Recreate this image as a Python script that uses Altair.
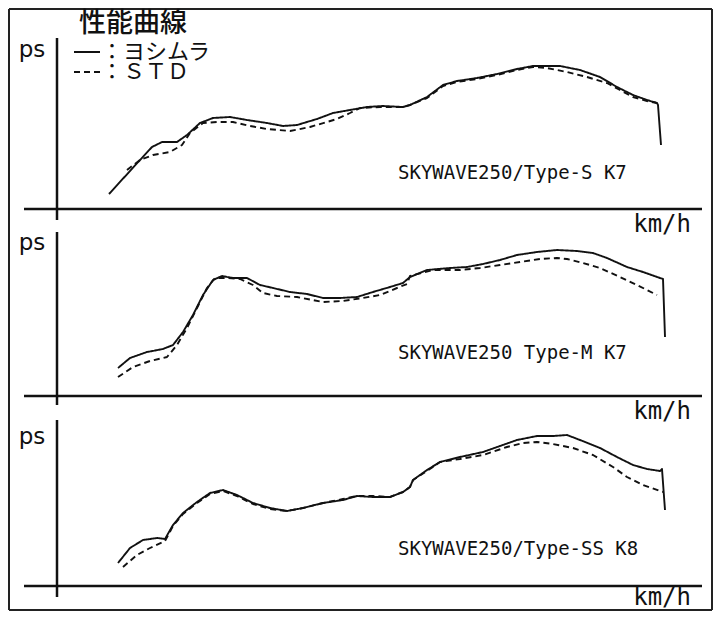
import altair as alt
import pandas as pd

# ---- text ----
TITLE = "性能曲線"
LEGEND_SOLID = "：ヨシムラ"
LEGEND_DASH = "：ＳＴＤ"
Y_LABEL = "ps"
X_LABEL = "km/h"
LABELS = ["SKYWAVE250/Type-S K7", "SKYWAVE250 Type-M K7", "SKYWAVE250/Type-SS K8"]
SERIES = ["ヨシムラ", "STD"]

# ---- panel 1 (Type-S K7) ----
p1_solid_speed = [52, 83, 95, 105, 120, 130, 143, 156, 173, 190, 210, 226, 240, 260, 276, 293, 310, 326, 346, 353, 370, 386, 400, 420, 440, 460, 476, 490, 503, 523, 543, 560, 576, 590, 600, 601, 604]
p1_solid_ps = [15, 49, 62, 67, 67, 74, 86, 91, 92, 89, 86, 83, 84, 90, 96, 99, 102, 103, 102, 104, 112, 124, 128, 131, 135, 140, 143, 143, 143, 139, 132, 122, 114, 109, 106, 104, 64]
p1_std_speed = [70, 83, 96, 113, 125, 133, 146, 160, 176, 193, 210, 233, 253, 280, 293, 303, 323, 346, 353, 370, 386, 400, 420, 440, 460, 476, 490, 510, 530, 550, 563, 576, 590, 600]
p1_std_ps = [39, 49, 54, 57, 64, 76, 86, 87, 87, 83, 80, 78, 82, 90, 96, 101, 102, 102, 104, 111, 123, 127, 130, 134, 139, 142, 141, 137, 132, 126, 119, 112, 108, 106]

# ---- panel 2 (Type-M K7) ----
p2_solid_speed = [61, 73, 90, 106, 116, 126, 136, 146, 156, 165, 176, 190, 203, 216, 233, 250, 266, 283, 300, 316, 333, 346, 353, 370, 393, 410, 426, 443, 460, 480, 500, 520, 536, 550, 570, 586, 603, 606, 608]
p2_solid_ps = [28, 38, 44, 47, 51, 64, 81, 101, 116, 120, 118, 118, 111, 108, 104, 102, 98, 98, 99, 104, 109, 113, 119, 126, 128, 129, 132, 136, 141, 144, 146, 145, 143, 138, 129, 124, 118, 117, 59]
p2_std_speed = [61, 76, 93, 110, 120, 130, 140, 150, 158, 170, 183, 196, 206, 220, 240, 266, 286, 306, 323, 340, 350, 353, 376, 403, 423, 443, 463, 483, 500, 510, 526, 543, 563, 580, 600]
p2_std_ps = [19, 29, 35, 39, 51, 68, 88, 108, 118, 118, 117, 111, 103, 100, 99, 94, 95, 98, 101, 108, 112, 120, 126, 126, 128, 131, 134, 137, 138, 137, 133, 128, 119, 111, 101]

# ---- panel 3 (Type-SS K8) ----
p3_solid_speed = [61, 73, 86, 100, 108, 116, 126, 140, 153, 166, 180, 196, 213, 230, 246, 266, 286, 300, 316, 333, 346, 353, 356, 370, 383, 403, 426, 443, 460, 480, 496, 510, 523, 543, 560, 576, 590, 603, 605, 608]
p3_solid_ps = [23, 38, 46, 48, 47, 61, 73, 84, 93, 96, 91, 83, 78, 75, 78, 83, 86, 90, 89, 89, 94, 99, 106, 116, 124, 129, 134, 140, 146, 150, 150, 151, 146, 138, 129, 121, 117, 115, 117, 76]
p3_std_speed = [66, 80, 93, 108, 116, 126, 140, 153, 166, 180, 196, 213, 230, 246, 266, 286, 300, 316, 333, 346, 353, 356, 370, 383, 403, 426, 450, 466, 480, 496, 516, 536, 556, 570, 586, 603, 606]
p3_std_ps = [19, 31, 38, 45, 60, 72, 83, 92, 95, 90, 82, 77, 75, 78, 83, 87, 90, 90, 89, 94, 99, 106, 115, 124, 127, 131, 139, 143, 144, 142, 138, 131, 119, 109, 101, 95, 94]

# baseline (x axis) pixel row of each panel, used for the per-panel y scales
PANEL_BASE = [209, 396, 586]
CANVAS_TOP, CANVAS_BOTTOM = 8, 611
W, H = 705, 603

xs = alt.Scale(domain=[-49, 656], nice=False, zero=False)


def series_df(s_speed, s_ps, d_speed, d_ps):
    rows = [{"speed": a, "ps": b, "series": SERIES[0], "order": i} for i, (a, b) in enumerate(zip(s_speed, s_ps))]
    rows += [{"speed": a, "ps": b, "series": SERIES[1], "order": i} for i, (a, b) in enumerate(zip(d_speed, d_ps))]
    return pd.DataFrame(rows)


def panel(idx, s_speed, s_ps, d_speed, d_ps, axis_top, axis_bot, ps_y, label_y, km_y, extra=None):
    base = PANEL_BASE[idx]
    ys = alt.Scale(domain=[base - CANVAS_BOTTOM, base - CANVAS_TOP], nice=False, zero=False)
    X = lambda f: alt.X(f, type="quantitative", scale=xs, axis=None)
    Y = lambda f: alt.Y(f, type="quantitative", scale=ys, axis=None)

    lines = alt.Chart(series_df(s_speed, s_ps, d_speed, d_ps)).mark_line(
        color="#111", strokeWidth=1.9, strokeJoin="round"
    ).encode(
        x=X("speed"), y=Y("ps"), order="order:Q",
        strokeDash=alt.StrokeDash("series:N", scale=alt.Scale(domain=SERIES, range=[[1, 0], [6, 4]]), legend=None),
    )

    axes = alt.Chart(pd.DataFrame([
        {"x": 0, "x2": 0, "y": axis_bot, "y2": axis_top},
        {"x": -33, "x2": 645, "y": 0, "y2": 0},
    ])).mark_rule(color="#111", strokeWidth=2.5).encode(x=X("x"), x2="x2:Q", y=Y("y"), y2="y2:Q")

    ps_text = alt.Chart(pd.DataFrame([{"x": -25, "y": ps_y, "t": Y_LABEL}])).mark_text(
        font="DejaVu Sans", fontSize=23, align="center", baseline="middle", color="#111"
    ).encode(x=X("x"), y=Y("y"), text="t:N")

    km_text = alt.Chart(pd.DataFrame([{"x": 634, "y": km_y, "t": X_LABEL}])).mark_text(
        font="DejaVu Sans Mono", fontSize=24, align="right", baseline="middle", color="#111"
    ).encode(x=X("x"), y=Y("y"), text="t:N")

    lab = alt.Chart(pd.DataFrame([{"x": 341, "y": label_y, "t": LABELS[idx]}])).mark_text(
        font="DejaVu Sans Mono", fontSize=19, align="left", baseline="alphabetic", color="#111"
    ).encode(x=X("x"), y=Y("y"), text="t:N")

    layers = [axes, lines, ps_text, km_text, lab]
    if extra:
        layers += extra(X, Y)
    return alt.layer(*layers)


def legend_layers(X, Y):
    box = alt.Chart(pd.DataFrame([
        {"x": -48, "x2": 655, "y": 200, "y2": 200},
        {"x": -48, "x2": 655, "y": -401, "y2": -401},
        {"x": -48, "x2": -48, "y": 200, "y2": -401},
        {"x": 655, "x2": 655, "y": 200, "y2": -401},
    ])).mark_rule(color="#222", strokeWidth=2).encode(x=X("x"), x2="x2:Q", y=Y("y"), y2="y2:Q")

    title = alt.Chart(pd.DataFrame([{"x": 76, "y": 185, "t": TITLE}])).mark_text(
        font="Noto Sans CJK JP", fontSize=27, fontWeight=500, align="center", baseline="middle", color="#111"
    ).encode(x=X("x"), y=Y("y"), text="t:N")

    leg = pd.DataFrame([
        {"x": 17, "x2": 43, "y": 157, "series": SERIES[0], "t": LEGEND_SOLID},
        {"x": 17, "x2": 43, "y": 137, "series": SERIES[1], "t": LEGEND_DASH},
    ])
    leg_lines = alt.Chart(leg).mark_rule(color="#111", strokeWidth=1.8).encode(
        x=X("x"), x2="x2:Q", y=Y("y"),
        strokeDash=alt.StrokeDash("series:N", scale=alt.Scale(domain=SERIES, range=[[1, 0], [4, 2.5]]), legend=None),
    )
    leg_text = alt.Chart(leg).mark_text(
        font="Noto Sans CJK JP", fontSize=22, align="left", baseline="middle", color="#111", dx=1
    ).encode(x=X("x2"), y=Y("y"), text="t:N")
    return [box, title, leg_lines, leg_text]


p1 = panel(0, p1_solid_speed, p1_solid_ps, p1_std_speed, p1_std_ps, 171, -11, 159, 30, -16, extra=legend_layers)
p2 = panel(1, p2_solid_speed, p2_solid_ps, p2_std_speed, p2_std_ps, 164, -9, 153, 37, -16)
p3 = panel(2, p3_solid_speed, p3_solid_ps, p3_std_speed, p3_std_ps, 166, -11, 149, 31, -12)

chart = alt.layer(p1, p2, p3).resolve_scale(y="independent", strokeDash="independent").properties(
    width=W, height=H, padding=0, autosize=alt.AutoSizeParams(type="none"), background="white"
).configure_view(stroke=None)

chart.save("out.html", embed_options={"renderer": "svg", "actions": False})
